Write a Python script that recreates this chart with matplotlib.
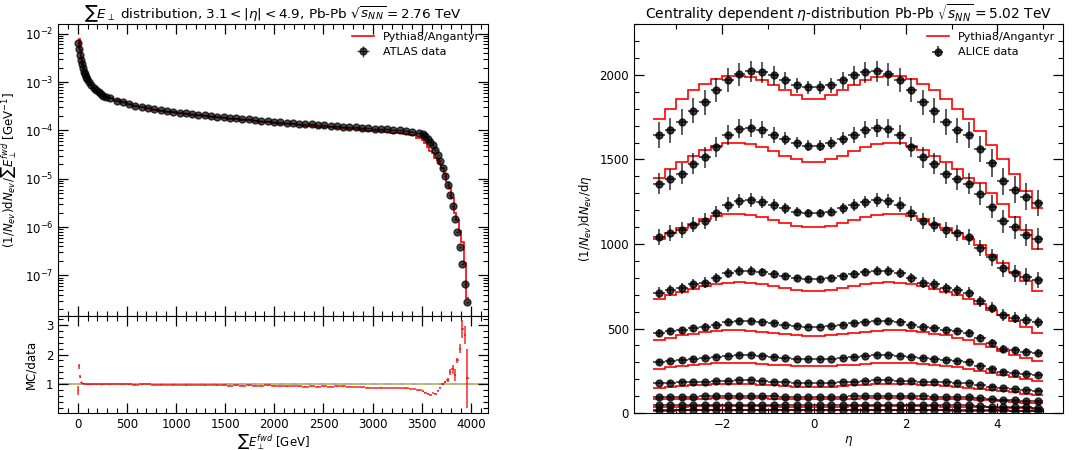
import numpy as np
import matplotlib.pyplot as plt
from matplotlib.ticker import MultipleLocator, LogLocator, NullFormatter

# ---- left: ATLAS sum ET (fwd), Pb-Pb 2.76 TeV ----
et_edges = np.concatenate([np.arange(0, 100, 10), np.arange(100, 300, 25),
                           np.arange(300, 3500, 64), np.arange(3500, 3976, 25)])

atlas_data = [6.4e-3, 4.8e-3, 3.7e-3, 2.9e-3, 2.35e-3, 1.95e-3, 1.65e-3, 1.45e-3, 1.3e-3, 1.17e-3,
              1.02e-3, 8.7e-4, 7.6e-4, 6.8e-4, 6.1e-4, 5.6e-4, 5.15e-4, 4.8e-4,
              4.6e-4, 4.15e-4, 3.8e-4, 3.5e-4, 3.25e-4, 3.05e-4, 2.88e-4, 2.72e-4, 2.6e-4, 2.5e-4,
              2.42e-4, 2.34e-4, 2.27e-4, 2.2e-4, 2.13e-4, 2.06e-4, 2.0e-4, 1.94e-4, 1.89e-4, 1.84e-4,
              1.79e-4, 1.74e-4, 1.69e-4, 1.64e-4, 1.59e-4, 1.55e-4, 1.51e-4, 1.48e-4, 1.45e-4, 1.42e-4,
              1.39e-4, 1.36e-4, 1.33e-4, 1.30e-4, 1.27e-4, 1.25e-4, 1.22e-4, 1.20e-4, 1.17e-4, 1.15e-4,
              1.13e-4, 1.11e-4, 1.09e-4, 1.07e-4, 1.05e-4, 1.03e-4, 1.01e-4, 9.8e-5, 9.4e-5, 8.9e-5,
              8.3e-5, 7.6e-5, 6.8e-5, 5.9e-5, 4.9e-5, 4.0e-5, 3.1e-5, 2.35e-5, 1.7e-5, 1.15e-5,
              7.5e-6, 4.6e-6, 2.7e-6, 1.5e-6, 7.8e-7, 3.8e-7, 1.7e-7, 6.8e-8, 2.8e-8]

mc_over_data = [0.8, 1.6, 1.25, 1.06, 1.03, 1.02, 1.02, 1.01, 1.01, 1.0,
                1.0, 1.0, 1.01, 1.0, 1.01, 1.0, 1.0, 1.01,
                1.0, 1.01, 1.0, 1.0, 0.99, 1.0, 1.01, 0.99, 0.99, 0.98, 0.99, 0.98,
                0.96, 0.97, 0.97, 0.96, 0.97, 0.96, 0.96, 0.95, 0.96, 0.95, 0.96,
                0.95, 0.95, 0.96, 0.95, 0.93, 0.93, 0.94, 0.93, 0.92, 0.93, 0.92,
                0.93, 0.92, 0.93, 0.93, 0.92, 0.91, 0.90, 0.89, 0.88, 0.89, 0.88,
                0.87, 0.87, 0.86, 0.84, 0.80,
                0.76, 0.72, 0.68, 0.65, 0.70, 0.68, 0.78, 0.88, 1.0, 1.08,
                1.15, 1.4, 1.5, 1.3, 1.8, 2.2, 2.85, 2.65, 1.2]

ratio_err = [0.15, 0.08, 0.05, 0.02, 0.01, 0.01, 0.01, 0.01, 0.01, 0.01] + [0.01] * 58 + \
            [0.01, 0.01, 0.01, 0.01, 0.01, 0.02, 0.02, 0.02, 0.03, 0.04,
             0.06, 0.1, 0.15, 0.2, 0.1, 0.15, 0.3, 0.3, 1.0]

# ---- right: ALICE dN/deta, Pb-Pb 5.02 TeV, 0-5% ... 80-90% ----
eta_edges = np.arange(-3.5, 5.01, 0.25)

eta_relerr = [0.046, 0.045, 0.044, 0.042, 0.040, 0.038, 0.036, 0.034, 0.032, 0.030, 0.028, 0.025, 0.022, 0.021,
              0.021, 0.022, 0.025, 0.028, 0.030, 0.032, 0.034, 0.036, 0.038, 0.040, 0.042, 0.044, 0.045, 0.046,
              0.050, 0.055, 0.060, 0.060, 0.062, 0.062]

d0005 = [1645, 1672, 1720, 1788, 1838, 1910, 1968, 2004, 2020, 2015, 1998, 1968, 1938, 1926,
         1926, 1938, 1968, 1998, 2015, 2020, 2004, 1968, 1910, 1838, 1788, 1720, 1672, 1645,
         1560, 1478, 1370, 1322, 1280, 1240]
m0005 = [1737, 1800, 1855, 1908, 1948, 1977, 1995, 1995, 1987, 1970, 1941, 1911, 1880, 1860,
         1860, 1880, 1911, 1941, 1970, 1987, 1995, 1995, 1977, 1948, 1908, 1855, 1800, 1737,
         1670, 1586, 1500, 1414, 1316, 1211]
d0510 = [1355, 1382, 1415, 1475, 1512, 1572, 1645, 1682, 1686, 1676, 1646, 1623, 1597, 1582,
         1582, 1597, 1623, 1646, 1676, 1686, 1682, 1645, 1572, 1512, 1475, 1415, 1382, 1355,
         1295, 1220, 1133, 1098, 1052, 1030]
m0510 = [1390, 1442, 1483, 1522, 1555, 1580, 1596, 1600, 1593, 1575, 1550, 1522, 1500, 1485,
         1485, 1500, 1522, 1550, 1575, 1593, 1600, 1596, 1580, 1555, 1522, 1483, 1442, 1390,
         1360, 1300, 1235, 1160, 1085, 972]
d1020 = [1040, 1063, 1083, 1115, 1135, 1182, 1232, 1254, 1259, 1248, 1231, 1210, 1192, 1182,
         1182, 1192, 1210, 1231, 1248, 1259, 1254, 1232, 1182, 1135, 1115, 1083, 1063, 1040,
         975, 921, 856, 826, 807, 787]
m1020 = [1030, 1062, 1092, 1118, 1145, 1165, 1175, 1178, 1173, 1162, 1143, 1123, 1108, 1100,
         1100, 1108, 1123, 1143, 1162, 1173, 1178, 1175, 1165, 1145, 1118, 1092, 1062, 1030,
         992, 937, 886, 834, 783, 722]
d2030 = [713, 727, 738, 762, 772, 800, 826, 841, 841, 833, 821, 810, 798, 792,
         792, 798, 810, 821, 833, 841, 841, 826, 800, 772, 762, 738, 727, 713,
         660, 624, 578, 564, 552, 536]
m2030 = [672, 696, 716, 735, 750, 765, 772, 775, 772, 763, 750, 737, 727, 720,
         720, 727, 737, 750, 763, 772, 775, 772, 765, 750, 735, 716, 696, 672,
         645, 611, 578, 544, 511, 476]
d3040 = [474, 484, 490, 502, 510, 522, 540, 545, 545, 540, 531, 523, 516, 511,
         511, 516, 523, 531, 540, 545, 545, 540, 522, 510, 502, 490, 484, 474,
         445, 413, 381, 371, 364, 355]
m3040 = [430, 447, 460, 470, 478, 486, 490, 491, 488, 482, 474, 466, 460, 456,
         456, 460, 466, 474, 482, 488, 491, 490, 486, 478, 470, 460, 447, 430,
         410, 388, 366, 345, 326, 308]
d4050 = [300, 306, 312, 318, 325, 332, 338, 342, 342, 338, 332, 325, 320, 317,
         317, 320, 325, 332, 338, 342, 342, 338, 332, 325, 318, 312, 306, 300,
         280, 258, 243, 236, 232, 228]
m4050 = [262, 270, 278, 285, 290, 295, 298, 299, 297, 293, 287, 282, 279, 277,
         277, 279, 282, 287, 293, 297, 299, 298, 295, 290, 285, 278, 270, 262,
         251, 238, 225, 212, 200, 188]
d5060 = [178, 180, 181, 184, 185, 188, 191, 194, 194, 191, 186, 183, 180, 178,
         178, 180, 183, 186, 191, 194, 194, 191, 188, 185, 184, 181, 180, 178,
         166, 156, 146, 140, 136, 133]
m5060 = [150, 155, 160, 164, 167, 170, 172, 172, 171, 168, 164, 160, 157, 155,
         155, 157, 160, 164, 168, 171, 172, 172, 170, 167, 164, 160, 155, 150,
         144, 137, 129, 122, 114, 105]
d6070 = [95, 96, 97, 98, 99, 100, 101, 102, 102, 101, 99, 98, 97, 96,
         96, 97, 98, 99, 101, 102, 102, 101, 100, 99, 98, 97, 96, 95,
         89, 83, 78, 75, 73, 71]
m6070 = [82, 83, 84, 85, 86, 87, 88, 89, 89, 88, 86, 85, 84, 83,
         83, 84, 85, 86, 88, 89, 89, 88, 87, 86, 85, 84, 83, 82,
         79, 75, 71, 66, 62, 57]
d7080 = [45, 45, 46, 47, 48, 49, 49, 49, 49, 48, 47, 46, 46, 45,
         45, 46, 46, 47, 48, 49, 49, 49, 49, 48, 47, 46, 45, 45,
         42, 39, 37, 35, 34, 33]
m7080 = [38, 38, 39, 40, 41, 42, 42, 42, 42, 41, 40, 39, 39, 38,
         38, 39, 39, 40, 41, 42, 42, 42, 42, 41, 40, 39, 38, 38,
         37, 35, 33, 31, 29, 27]
d8090 = [19, 19, 20, 20, 20, 21, 21, 21, 21, 21, 20, 20, 20, 20,
         20, 20, 20, 20, 21, 21, 21, 21, 21, 20, 20, 20, 19, 19,
         18, 17, 16, 15, 14.5, 14]
m8090 = [15, 15, 16, 16, 16, 17, 17, 17, 17, 16, 16, 16, 16, 16,
         16, 16, 16, 16, 16, 17, 17, 17, 17, 16, 16, 16, 15, 15,
         14.5, 14, 13, 12.5, 11.5, 10.5]

alice = [d0005, d0510, d1020, d2030, d3040, d4050, d5060, d6070, d7080, d8090]
angantyr = [m0005, m0510, m1020, m2030, m3040, m4050, m5060, m6070, m7080, m8090]

plt.rcParams['font.size'] = 8.5
plt.rcParams['mathtext.fontset'] = 'dejavusans'


def style(ax):
    ax.tick_params(which='both', direction='in', top=True, right=True, labelsize=8.5)
    ax.tick_params(which='major', length=7, width=0.9)
    ax.tick_params(which='minor', length=3.5, width=0.8)


fig = plt.figure(figsize=(10.76, 4.5), dpi=100)
ax1 = fig.add_axes([0.054, 0.298, 0.3996, 0.649])
ax2 = fig.add_axes([0.054, 0.082, 0.3996, 0.216], sharex=ax1)
ax3 = fig.add_axes([0.589, 0.082, 0.3987, 0.8644])

et_x = 0.5 * (et_edges[1:] + et_edges[:-1])
et_half = 0.5 * np.diff(et_edges)
atlas = np.array(atlas_data)
mc_et = atlas * np.array(mc_over_data)

ax1.stairs(mc_et, et_edges, baseline=None, color='red', lw=1.2, label='Pythia8/Angantyr', zorder=2)
ax1.errorbar(et_x, atlas, xerr=et_half, yerr=0.02 * atlas, fmt='o', color='k', ms=5,
             alpha=0.7, elinewidth=1, label='ATLAS data', zorder=3)
ax1.set_yscale('log')
ax1.set_xlim(-199, 4174)
ax1.set_ylim(1.46e-8, 1.6e-2)
ax1.yaxis.set_major_locator(LogLocator(base=10, numticks=20))
ax1.yaxis.set_minor_locator(LogLocator(base=10, subs=np.arange(2, 10), numticks=20))
ax1.yaxis.set_minor_formatter(NullFormatter())
ax1.xaxis.set_major_locator(MultipleLocator(500))
ax1.xaxis.set_minor_locator(MultipleLocator(100))
style(ax1)
ax1.tick_params(labelbottom=False)
ax1.set_ylabel(r'$(1/N_{ev})\mathrm{d}N_{ev}/\sum E_{\perp}^{fwd}$ [GeV$^{-1}$]', fontsize=8.5)
ax1.set_title(r'$\sum E_\perp$ distribution, $3.1 < |\eta| < 4.9$, Pb-Pb $\sqrt{s_{NN}} = 2.76$ TeV',
              fontsize=9.7, pad=4)
ax1.legend(loc='upper right', frameon=False, fontsize=8, borderaxespad=0.3)

ax2.axhline(1, color='0.6', lw=1.2, zorder=1)
ax2.axhline(1, color='#c8c850', lw=1.2, ls=(0, (4, 4)), zorder=1)
ax2.errorbar(et_x, mc_over_data, xerr=et_half, yerr=ratio_err, fmt='none', ecolor='red',
             elinewidth=1.1, alpha=0.85, zorder=2)
ax2.set_ylim(0.03, 3.3)
ax2.yaxis.set_major_locator(MultipleLocator(1))
ax2.yaxis.set_minor_locator(MultipleLocator(0.2))
style(ax2)
ax2.set_ylabel('MC/data', fontsize=8.5, labelpad=6)
ax2.set_xlabel(r'$\sum E_\perp^{fwd}$ [GeV]', fontsize=8.5, labelpad=1)

eta_x = 0.5 * (eta_edges[1:] + eta_edges[:-1])
relerr = np.array(eta_relerr)
for i, (dat, mc) in enumerate(zip(alice, angantyr)):
    dat = np.array(dat, dtype=float)
    ax3.stairs(mc, eta_edges, baseline=None, color='red', lw=1.2, zorder=2,
               label='Pythia8/Angantyr' if i == 0 else None)
    ax3.errorbar(eta_x, dat, xerr=0.125, yerr=relerr * dat, fmt='o', color='k', ms=5,
                 alpha=0.75, elinewidth=1.2, zorder=3, label='ALICE data' if i == 0 else None)
ax3.set_xlim(-3.925, 5.425)
ax3.set_ylim(0, 2300)
ax3.xaxis.set_major_locator(MultipleLocator(2))
ax3.xaxis.set_minor_locator(MultipleLocator(1))
ax3.yaxis.set_major_locator(MultipleLocator(500))
ax3.yaxis.set_minor_locator(MultipleLocator(100))
style(ax3)
ax3.set_xlabel(r'$\eta$', fontsize=8.5, labelpad=2)
ax3.set_ylabel(r'$(1/N_{ev})\mathrm{d}N_{ev}/\mathrm{d}\eta$', fontsize=8.5)
ax3.set_title(r'Centrality dependent $\eta$-distribution Pb-Pb $\sqrt{s_{NN}} = 5.02$ TeV',
              fontsize=10, pad=4)
ax3.legend(loc='upper right', frameon=False, fontsize=8, borderaxespad=0.3)

fig.savefig('out.png', dpi=100)
